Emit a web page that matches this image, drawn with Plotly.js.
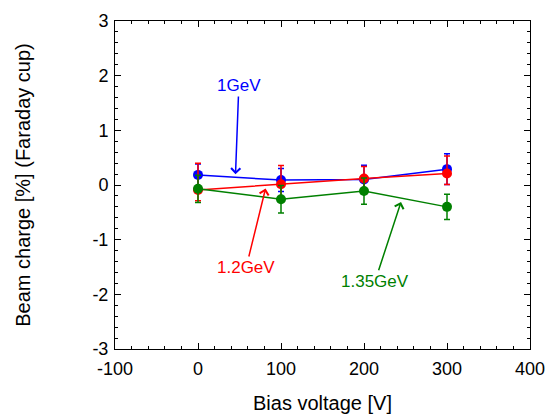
<!DOCTYPE html>
<html>
<head>
<meta charset="utf-8">
<script src="https://cdn.plot.ly/plotly-3.0.1.min.js"></script>
<style>html,body{margin:0;padding:0;background:#fff;}#chart{width:550px;height:415px;}</style>
</head>
<body>
<div id="chart"></div>
<script>
// Bias voltage [V]
const biasVoltage = [0, 100, 200, 300];

// 1 GeV
const beam1GeV = [0.185, 0.09, 0.10, 0.29];
const err1GeVPlus = [0.20, 0.21, 0.26, 0.28];
const err1GeVMinus = [0.20, 0.21, 0.26, 0.28];

// 1.2 GeV
const beam12GeV = [-0.09, 0.015, 0.12, 0.21];
const err12GeVPlus = [0.49, 0.34, 0.22, 0.32];
const err12GeVMinus = [0.20, 0.30, 0.20, 0.20];

// 1.35 GeV
const beam135GeV = [-0.07, -0.26, -0.11, -0.40];
const err135GeV = [0.25, 0.25, 0.24, 0.23];

const seriesNames = ["1GeV", "1.2GeV", "1.35GeV"];
const xTickVals = [-100, 0, 100, 200, 300, 400];
const yTickVals = [-3, -2, -1, 0, 1, 2, 3];

const FONT = "Liberation Sans, Arial, sans-serif";
const blue = "#0000ff", red = "#ff0000", green = "#008000";

function trace(y, plus, minus, color, name) {
  return {
    x: biasVoltage, y: y, name: name, type: "scatter", mode: "lines+markers",
    line: {color: color, width: 1.5},
    marker: {color: color, size: 10},
    error_y: {type: "data", array: plus, arrayminus: minus, symmetric: false,
              color: color, thickness: 1.5, width: 3},
    cliponaxis: false
  };
}

const data = [
  trace(beam1GeV, err1GeVPlus, err1GeVMinus, blue, seriesNames[0]),
  trace(beam12GeV, err12GeVPlus, err12GeVMinus, red, seriesNames[1]),
  trace(beam135GeV, err135GeV, err135GeV, green, seriesNames[2])
];

const annFont = (c) => ({family: FONT, size: 17, color: c});
const layout = {
  width: 550, height: 415,
  margin: {l: 115, r: 20, t: 21, b: 66},
  paper_bgcolor: "#fff", plot_bgcolor: "#fff",
  showlegend: false,
  font: {family: FONT, size: 18, color: "#000"},
  xaxis: {
    range: [-100, 400], tickvals: xTickVals, ticktext: xTickVals.map(String),
    ticks: "inside", ticklen: 6, tickwidth: 1, tickcolor: "#000",
    minor: {dtick: 20, ticks: "inside", ticklen: 3, tickcolor: "#000", tickwidth: 1},
    showline: true, linecolor: "#000", linewidth: 1, mirror: "ticks",
    showgrid: false, zeroline: false, ticklabelstandoff: 3,
    title: {text: "Bias voltage [V]", font: {family: FONT, size: 20}, standoff: 18},
    tickfont: {family: FONT, size: 18}
  },
  yaxis: {
    range: [-3, 3], tickvals: yTickVals, ticktext: yTickVals.map(String),
    ticks: "inside", ticklen: 6, tickwidth: 1, tickcolor: "#000",
    minor: {dtick: 0.2, ticks: "inside", ticklen: 3, tickcolor: "#000", tickwidth: 1},
    showline: true, linecolor: "#000", linewidth: 1, mirror: "ticks",
    showgrid: false, zeroline: false, ticklabelstandoff: 2,
    title: {text: "Beam charge [%] (Faraday cup)", font: {family: FONT, size: 20}, standoff: 56},
    tickfont: {family: FONT, size: 18}
  },
  annotations: [
    {x: 45.2, y: 0.197, ax: 49.2, ay: 1.82, axref: "x", ayref: "y", xref: "x", yref: "y",
     text: seriesNames[0], font: annFont(blue), showarrow: true, arrowhead: 4, arrowsize: 1.2,
     arrowwidth: 1.5, arrowcolor: blue},
    {x: 81.4, y: -0.064, ax: 58, ay: -1.51, axref: "x", ayref: "y", xref: "x", yref: "y",
     text: seriesNames[1], font: annFont(red), showarrow: true, arrowhead: 4, arrowsize: 1.2,
     arrowwidth: 1.5, arrowcolor: red},
    {x: 244.6, y: -0.31, ax: 213.3, ay: -1.76, axref: "x", ayref: "y", xref: "x", yref: "y",
     text: seriesNames[2], font: annFont(green), showarrow: true, arrowhead: 4, arrowsize: 1.2,
     arrowwidth: 1.5, arrowcolor: green}
  ]
};

Plotly.newPlot("chart", data, layout, {displayModeBar: false, staticPlot: true});
</script>
</body>
</html>
